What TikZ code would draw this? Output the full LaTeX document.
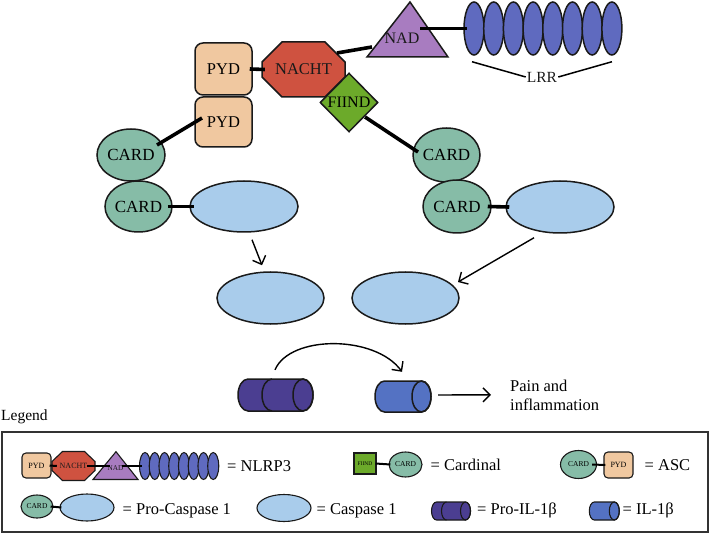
\documentclass[tikz,border=0pt]{standalone}
\usepackage{fontspec}
\setmainfont{Liberation Serif}
\usetikzlibrary{shapes.geometric,calc,arrows.meta}
\definecolor{pydc}{HTML}{F0C8A0}
\definecolor{nachtc}{HTML}{CF5240}
\definecolor{nadc}{HTML}{A87CC0}
\definecolor{lrrc}{HTML}{5F6ABF}
\definecolor{fiindc}{HTML}{6CAA2A}
\definecolor{cardc}{HTML}{86BCA7}
\definecolor{caspc}{HTML}{A9CCEB}
\definecolor{proilc}{HTML}{4B3E91}
\definecolor{ilc}{HTML}{5472C3}
\definecolor{linec}{HTML}{1A1A1A}
\definecolor{boxc}{HTML}{333333}
\newcommand{\myfs}[1]{\fontsize{#1}{#1}\selectfont}
% x0, x1, yc, r, e, colour, line width
\newcommand{\cylbody}[7]{%
  \draw[draw=linec,line width=#7,fill=#6] ({#1+#5},{#3-#4}) -- ({#2-#5},{#3-#4})
    arc[start angle=-90,end angle=90,x radius=#5,y radius=#4] -- ({#1+#5},{#3+#4})
    arc[start angle=90,end angle=270,x radius=#5,y radius=#4] -- cycle;
  \draw[draw=linec,line width=#7] ({#2-#5},#3) ellipse[x radius=#5,y radius=#4];}
\begin{document}
\begin{tikzpicture}[x=1pt,y=-1pt,
  outl/.style={draw=linec,line width=1.5pt},
  soutl/.style={draw=linec,line width=1.1pt},
  txt/.style={text=linec,inner sep=0pt},
  pydbox/.style={outl,fill=pydc,rounded corners=8pt,inner sep=0pt,font=\myfs{16.5}},
  cardell/.style={outl,ellipse,fill=cardc,inner sep=0pt,font=\myfs{17}},
  caspell/.style={outl,ellipse,fill=caspc,inner sep=0pt},
  lrrell/.style={outl,ellipse,fill=lrrc,inner sep=0pt,minimum width=20pt,minimum height=53pt},
  bond/.style={draw=black,line width=3.6pt},
  sbond/.style={draw=black,line width=2pt},
  arr/.style={draw=black,line width=1.4pt,-{Straight Barb[length=7pt,width=14pt,line width=1.4pt]}},
  spydbox/.style={soutl,fill=pydc,rounded corners=4pt,inner sep=0pt,font=\myfs{8}},
  scardell/.style={soutl,ellipse,fill=cardc,inner sep=0pt,font=\myfs{7.5}},
  scaspell/.style={soutl,ellipse,fill=caspc,inner sep=0pt},
  slrrell/.style={soutl,ellipse,fill=lrrc,inner sep=0pt,minimum width=11pt,minimum height=27pt},
  legtxt/.style={anchor=west,inner sep=0pt,font=\myfs{16.5}}]
\useasboundingbox (0,0) rectangle (711,534);

% ---------- NLRP3 ----------
\node[pydbox,minimum width=57pt,minimum height=52pt] (pyd1) at (223.5,69) {PYD};
\node[pydbox,minimum width=57pt,minimum height=50pt] (pyd2) at (223.5,122) {PYD};
\draw[outl,fill=nachtc,shift={(303.5,69.5)}] (-41.5,-7.5) -- (-21.5,-27.5) -- (21.5,-27.5) -- (41.5,-7.5)
   -- (41.5,7.5) -- (21.5,27.5) -- (-21.5,27.5) -- (-41.5,7.5) -- cycle;
\node[txt,font=\myfs{16.5},minimum width=83pt,minimum height=55pt] (nacht) at (303.5,69.5) {NACHT};
\draw[outl,fill=nadc] (410,2) -- (448,57) -- (367,57) -- cycle;
\node[txt,font=\myfs{16}] (nad) at (402,38) {NAD};
\foreach \i in {0,...,7} \node[lrrell] (lrr\i) at ({474+\i*19.7},28.5) {};
\node[txt,font=\myfs{15.5},inner sep=1pt] (lrrlab) at (542,77) {LRR};
\draw[line width=1.5pt] ($(lrr0.south)+(-2,6)$) -- (lrrlab.west);
\draw[line width=1.5pt] (lrrlab.east) -- ($(lrr7.south)+(0,6)$);
\node[outl,diamond,fill=fiindc,minimum width=58pt,minimum height=59pt,inner sep=0pt,font=\myfs{16}] (fiind) at (349,102.5) {FIIND};

\draw[bond] ($(pyd1.east)+(-3,0)$) -- ($(nacht.west)+(3,0)$);
\draw[bond] ($(nacht.center)+(33.5,-16.5)$) -- ($(nad.center)+(-30,9)$);
\draw[bond] ($(nad.center)+(18,-9.5)$) -- ($(lrr0.west)+(4,0)$);

% ---------- ASC + Pro-caspase (left) ----------
\node[cardell,minimum width=68pt,minimum height=52pt] (cardL1) at (131,155) {CARD};
\node[cardell,minimum width=67pt,minimum height=51pt] (cardL2) at (138.5,206.5) {CARD};
\node[caspell,minimum width=108pt,minimum height=51pt] (caspL) at (244,206.5) {};
\draw[bond] ($(cardL1.center)+(26,-10)$) -- ($(pyd2.center)+(-21.5,-4)$);
\draw[bond] ($(cardL2.east)+(-5,0)$) -- ($(caspL.west)+(5,0)$);

% ---------- Cardinal + Pro-caspase (right) ----------
\node[cardell,minimum width=67pt,minimum height=54pt] (cardR1) at (446.5,155) {CARD};
\node[cardell,minimum width=68pt,minimum height=53pt] (cardR2) at (457,206.5) {CARD};
\node[caspell,minimum width=108pt,minimum height=52pt] (caspR) at (560,207) {};
\draw[bond] ($(fiind.center)+(16,14.5)$) -- ($(cardR1.center)+(-28.5,-3)$);
\draw[bond] ($(cardR2.east)+(-4,0)$) -- ($(caspR.west)+(4,0)$);

% ---------- Caspase 1 ----------
\node[caspell,minimum width=107pt,minimum height=52pt] (casp1) at (270.5,298) {};
\node[caspell,minimum width=107pt,minimum height=52pt] (casp2) at (405.5,298) {};
\draw[arr] ($(caspL.south)+(8,7)$) -- ($(casp1.north)+(-8.5,-6)$);
\draw[arr] ($(caspR.south)+(-26,4)$) -- ($(casp2.center)+(52.5,-16)$);

% ---------- IL-1beta ----------
\node[inner sep=0pt,minimum width=75pt,minimum height=32pt] (proil) at (275.5,395) {};
\cylbody{238}{313}{395}{16}{10}{proilc}{1.5pt}
\draw[draw=linec,line width=1.5pt] (272,379) arc[start angle=-90,end angle=-270,x radius=10,y radius=16];
\node[inner sep=0pt,minimum width=56pt,minimum height=31pt] (il) at (403,396.5) {};
\cylbody{375}{431}{396.5}{15.5}{9.5}{ilc}{1.5pt}
\draw[arr] ($(proil.north)+(-0.5,-9)$) .. controls +(15,-35) and +(-27,-37) .. ($(il.north)+(-1,-9)$);
\node[anchor=west,align=left,inner sep=0pt,font=\fontsize{16.5}{19}\selectfont] (pain) at (510,395.8) {Pain and\\inflammation};
\draw[arr] ($(il.east)+(7,-1.5)$) -- ($(pain.west)+(-19,-1)$);

% ---------- Legend ----------
\node[anchor=west,inner sep=0pt,font=\myfs{15.5}] (legend) at (1,417) {Legend};
\draw[draw=boxc,line width=1.3pt] (2,432) rectangle (708,532);

% row 1: NLRP3
\node[spydbox,minimum width=29pt,minimum height=25pt] (lpyd) at (36.5,465.5) {PYD};
\draw[soutl,fill=nachtc,shift={(73.5,466)}] (-21.5,-4.5) -- (-11,-14.5) -- (11,-14.5) -- (21.5,-4.5)
   -- (21.5,4.5) -- (11,14.5) -- (-11,14.5) -- (-21.5,4.5) -- cycle;
\node[txt,font=\myfs{8},minimum width=43pt,minimum height=29pt] (lnacht) at (73.5,466) {NACHT};
\draw[soutl,fill=nadc] (116,451.7) -- (138,479.5) -- (93,479.5) -- cycle;
\node[txt,font=\myfs{7.3}] (lnad) at (115.5,468) {NAD};
\foreach \i in {0,...,7} \node[slrrell] (llrr\i) at ({145+\i*9.75},466) {};
\draw[sbond] ($(lpyd.east)+(-2,0)$) -- ($(lnacht.west)+(5,0)$);
\draw[sbond] ($(lnacht.east)+(-8,0)$) -- ($(lnad.center)+(-6,-2)$);
\draw[sbond] ($(lnad.center)+(6.5,-2)$) -- ($(llrr0.west)+(3,0)$);
\node[legtxt] (tnlrp) at (227,466) {= NLRP3};

% row 1: Cardinal
\node[soutl,fill=fiindc,minimum width=22pt,minimum height=21pt,inner sep=0pt,font=\myfs{5.5}] (lfiind) at (365,463.5) {FIIND};
\node[scardell,minimum width=33pt,minimum height=25pt] (lcard1) at (405.5,464.5) {CARD};
\draw[sbond] ($(lfiind.east)+(-1,0)$) -- ($(lcard1.west)+(2,0)$);
\node[legtxt] (tcardinal) at (430.5,465) {= Cardinal};

% row 1: ASC
\node[scardell,minimum width=36pt,minimum height=28pt] (lcard2) at (578.5,464.5) {CARD};
\node[spydbox,minimum width=29pt,minimum height=26pt] (lpyd2) at (618.5,465) {PYD};
\draw[sbond] ($(lcard2.east)+(-5,0)$) -- ($(lpyd2.west)+(2,0)$);
\node[legtxt] (tasc) at (644.5,465) {= ASC};

% row 2
\node[scardell,minimum width=32pt,minimum height=23pt] (lcard3) at (37,506.5) {CARD};
\node[scaspell,minimum width=54pt,minimum height=27pt] (lcasp1) at (87,507.5) {};
\draw[sbond] ($(lcard3.east)+(-3,0)$) -- ($(lcasp1.west)+(2,0)$);
\node[legtxt] (tprocasp) at (122.5,511) {= Pro-Caspase 1};
\node[scaspell,minimum width=54pt,minimum height=27pt] (lcasp2) at (284,508) {};
\node[legtxt] (tcasp) at (316.5,511) {= Caspase 1};
\node[inner sep=0pt,minimum width=39pt,minimum height=18pt] (lproil) at (451,511) {};
\cylbody{431.5}{470.5}{511}{9}{5}{proilc}{1.1pt}
\draw[draw=linec,line width=1.1pt] (446.5,502) arc[start angle=-90,end angle=-270,x radius=5,y radius=9];
\node[legtxt] (tproil) at (477,510.5) {= Pro-IL-1β};
\node[inner sep=0pt,minimum width=30pt,minimum height=18pt] (lil) at (604.3,511) {};
\cylbody{589.3}{619.3}{511}{9}{5}{ilc}{1.1pt}
\node[legtxt] (til) at (622.5,510.5) {= IL-1β};
\end{tikzpicture}
\end{document}
